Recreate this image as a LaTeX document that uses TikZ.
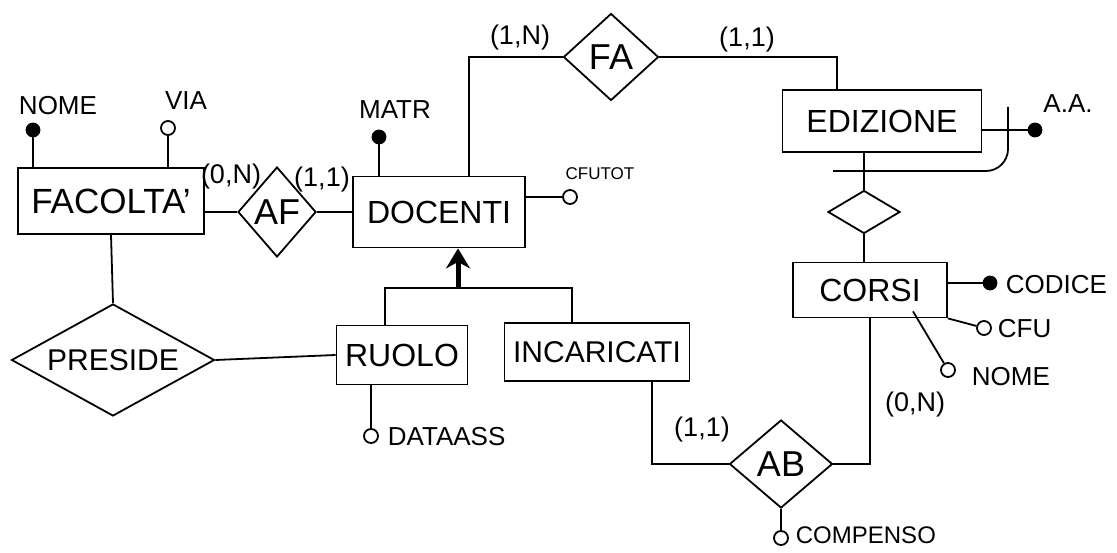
\documentclass[tikz,border=0pt]{standalone}
\usepackage{fontspec}
\setmainfont{Liberation Sans}
\usetikzlibrary{shapes.geometric,arrows.meta}

\begin{document}
\begin{tikzpicture}[x=1pt,y=-1pt,line width=1.8pt,
    entita/.style={draw,rectangle,inner sep=0pt,font=\fontsize{32}{36}\selectfont},
    relazione/.style={draw,diamond,inner sep=0pt,font=\fontsize{36}{40}\selectfont},
    attrpieno/.style={draw,circle,fill=black,minimum size=13pt,inner sep=0pt},
    attrvuoto/.style={draw,circle,fill=white,minimum size=14pt,inner sep=0pt},
    etichetta/.style={inner sep=1pt,font=\fontsize{26}{28}\selectfont},
    card/.style={inner sep=1pt,font=\fontsize{27}{29}\selectfont}]

  \useasboundingbox[fill=white] (0,0) rectangle (1117,553);

  % Entita'
  \node[entita,minimum width=186pt,minimum height=66pt,font=\fontsize{35}{38}\selectfont] (facolta) at (111,201) {FACOLTA'};
  \node[entita,minimum width=172pt,minimum height=71pt] (docenti) at (439,212) {DOCENTI};
  \node[entita,minimum width=199pt,minimum height=62pt] (edizione) at (882,121) {EDIZIONE};
  \node[entita,minimum width=154pt,minimum height=55pt] (corsi) at (870,290) {CORSI};
  \node[entita,minimum width=131pt,minimum height=59pt] (ruolo) at (402,355) {RUOLO};
  \node[entita,minimum width=185pt,minimum height=58pt,font=\fontsize{30}{34}\selectfont] (incaricati) at (597,352) {INCARICATI};

  % Relazioni
  \node[relazione,minimum width=78pt,minimum height=90pt] (af) at (277,212) {AF};
  \node[relazione,minimum width=95pt,minimum height=87pt] (fa) at (611,57) {FA};
  \node[relazione,minimum width=72pt,minimum height=43pt] (ec) at (864,212) {};
  \node[relazione,shape aspect=2,minimum width=203pt,minimum height=112pt,font=\fontsize{30}{34}\selectfont] (preside) at (113,360) {PRESIDE};
  \node[relazione,minimum width=103pt,minimum height=88pt] (ab) at (781,464) {AB};

  % Attributi
  \node[attrpieno] (nomef) at (33,130) {};
  \node[attrvuoto] (via) at (168,128) {};
  \node[attrpieno] (matr) at (379,137) {};
  \node[attrvuoto] (cfutot) at (570,197) {};
  \node[attrpieno] (aa) at (1035,130) {};
  \node[attrpieno] (codice) at (990,283) {};
  \node[attrvuoto] (cfu) at (984,328) {};
  \node[attrvuoto] (nomec) at (948,370) {};
  \node[attrvuoto] (dataass) at (371,436) {};
  \node[attrvuoto] (compenso) at (781,538) {};

  % Nomi degli attributi
  \node[etichetta] (lnomef) at (58,106) {NOME};
  \node[etichetta] (lvia) at (186,101) {VIA};
  \node[etichetta] (lmatr) at (395,110) {MATR};
  \node[etichetta,font=\fontsize{17}{20}\selectfont] (lcfutot) at (600,174) {CFUTOT};
  \node[etichetta] (laa) at (1068,104) {A.A.};
  \node[etichetta,anchor=west] (lcodice) at (1004,285) {CODICE};
  \node[etichetta,anchor=west] (lcfu) at (996,329) {CFU};
  \node[etichetta,anchor=west] (lnomec) at (970,377) {NOME};
  \node[etichetta,anchor=west] (ldataass) at (386,437) {DATAASS};
  \node[etichetta,anchor=west,font=\fontsize{24}{26}\selectfont] (lcompenso) at (794,535) {COMPENSO};

  % Cardinalita'
  \node[card] (c1) at (231,177) {(0,N)};
  \node[card] (c2) at (322,180) {(1,1)};
  \node[card] (c3) at (520,38) {(1,N)};
  \node[card] (c4) at (747,40) {(1,1)};
  \node[card] (c5) at (702,430) {(1,1)};
  \node[card] (c6) at (915,405) {(0,N)};

  % Collegamenti delle relazioni
  \draw (af.west) -- (af.west -| facolta.east);
  \draw (af.east) -- (af.east -| docenti.west);
  \draw ([xshift=30pt]docenti.north) |- (fa.west);
  \draw (fa.east) -| ([xshift=-45pt]edizione.north);
  \draw (ec.north |- edizione.south) -- (ec.north);
  \draw (ec.south) -- (ec.south |- corsi.north);
  \draw (facolta.south) -- (preside.north);
  \draw (preside.east) -- (ruolo.west);
  \draw (corsi.south) |- (ab.east);
  \draw ([xshift=55pt]incaricati.south) |- (ab.west);

  % Collegamenti degli attributi
  \draw (nomef) -- (nomef |- facolta.north);
  \draw (via) -- (via |- facolta.north);
  \draw (matr) -- (matr |- docenti.north);
  \draw (cfutot) -- (cfutot -| docenti.east);
  \draw (aa) -- (aa -| edizione.east);
  \draw (codice) -- (codice -| corsi.east);
  \draw (cfu) -- (corsi.south east);
  \draw (nomec) -- ([xshift=43pt,yshift=7pt]corsi.south);
  \draw (dataass) -- (dataass |- ruolo.south);
  \draw (compenso) -- (ab.south);

  % Identificatore esterno
  \coordinate (idtop) at (1008,107);
  \coordinate (idfine) at (833,171);
  \draw[rounded corners=22pt] (idtop) |- (idfine);

  % Generalizzazione
  \coordinate (gen) at (458,288);
  \draw ([xshift=-17pt]ruolo.north) |- (gen) -| ([xshift=-25pt]incaricati.north);
  \draw[line width=5pt,-{Stealth[length=20pt,width=24pt]}] (gen) -- (gen |- docenti.south);

\end{tikzpicture}
\end{document}
